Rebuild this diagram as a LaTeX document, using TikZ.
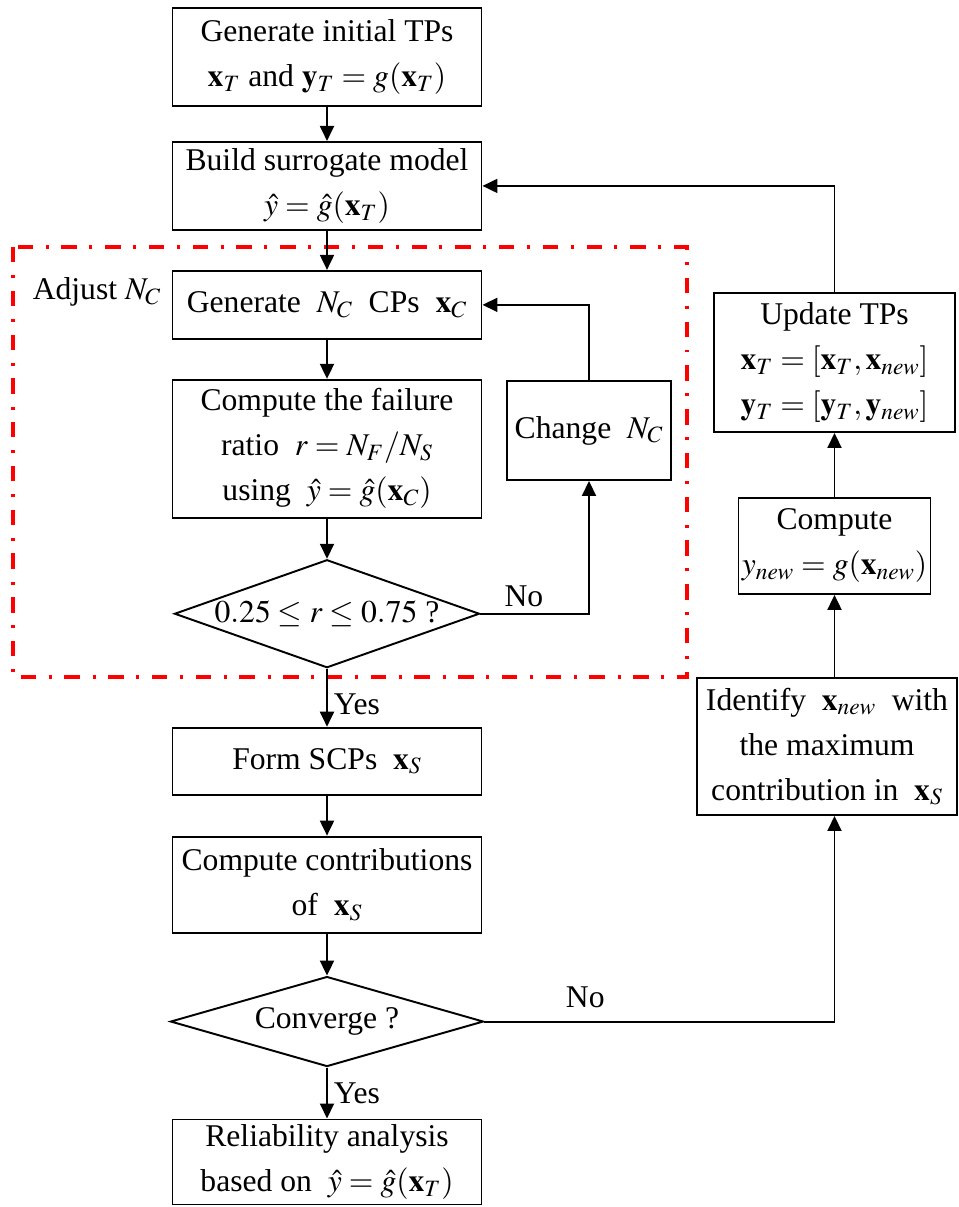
\documentclass[tikz,border=0pt]{standalone}
\usepackage{mathptmx}
\usepackage[no-math]{fontspec}
\setmainfont{Liberation Serif}
\usetikzlibrary{positioning,shapes.geometric,arrows.meta}

\begin{document}
\begin{tikzpicture}[auto, thick, line width=1.1pt, >={Triangle[length=0.3cm,width=0.28cm]},
font=\fontsize{18}{25.6}\selectfont,
main node/.style={rectangle,draw,align=center,inner sep=1pt,minimum width=6.18cm},
side node/.style={rectangle,draw,align=center,inner sep=1pt},
test node/.style={diamond,draw,aspect=2.8,inner sep=0pt,minimum width=6.1cm,minimum height=2.16cm},
red frame/.style={draw=red,line width=1.9pt,dash pattern=on 8.8pt off 7.3pt on 1.7pt off 7.1pt}]
\useasboundingbox(0,0)rectangle(19.18,-24.14);
\node[main node,minimum height=1.96cm](init) at (6.54,-1.14){Generate initial TPs\\ $\mathbf{x}_T$ and $\mathbf{y}_T=g(\mathbf{x}_T)$};
\node[main node,minimum height=1.76cm](build)[below=0.68cm of init]{Build surrogate model\\ $\hat{y}=\hat{g}(\mathbf{x}_T)$};
\node[main node,minimum height=1.36cm](gen)[below=0.78cm of build]{Generate \ $N_C$ \ CPs \ $\mathbf{x}_C$};
\node[main node,minimum height=2.76cm](ratio)[below=0.78cm of gen]{Compute the failure\\ ratio \ $r=N_F/N_S$\\ using \ $\hat{y}=\hat{g}(\mathbf{x}_C)$};
\node[test node](range)[below=0.8cm of ratio]{$0.25\le r\le 0.75$ ?};
\node[main node,minimum height=1.34cm](form)[below=1.16cm of range]{Form SCPs \ $\mathbf{x}_S$};
\node[main node,minimum height=1.92cm](contrib)[below=0.8cm of form]{Compute contributions\\ of \ $\mathbf{x}_S$};
\node[test node,aspect=3.4,minimum width=6.26cm,minimum height=1.8cm](conv)[below=0.84cm of contrib]{Converge ?};
\node[main node,minimum height=1.7cm](rel)[below=1.02cm of conv]{Reliability analysis\\ based on \ $\hat{y}=\hat{g}(\mathbf{x}_T)$};
\node[side node,minimum width=3.28cm,minimum height=1.98cm](change) at (11.78,-8.61){Change \ $N_C$};
\node[side node,minimum width=4.82cm,minimum height=2.78cm](update) at (16.69,-7.25){Update TPs\\ $\mathbf{x}_T=[\mathbf{x}_T,\mathbf{x}_{new}]$\\ $\mathbf{y}_T=[\mathbf{y}_T,\mathbf{y}_{new}]$};
\node[side node,minimum width=3.84cm,minimum height=1.92cm](compute)[below=1.28cm of update]{Compute\\ $y_{new}=g(\mathbf{x}_{new})$};
\node[side node,minimum width=5.2cm,minimum height=2.74cm](ident) at (16.54,-14.93){Identify \ $\mathbf{x}_{new}$ \ with\\ the maximum\\ contribution in \ $\mathbf{x}_S$};
\node(adjust) at (1.94,-5.84){Adjust $N_C$};
\draw[red frame](0.26,-4.94)rectangle(13.74,-13.54);
\draw[->](init)to(build);
\draw[->](build)to(gen);
\draw[->](gen)to(ratio);
\draw[->](ratio)to(range);
\draw[->](range)to node[right,pos=0.62]{Yes}(form);
\draw[->](form)to(contrib);
\draw[->](contrib)to(conv);
\draw[->](conv)to node[right]{Yes}(rel);
\draw[->](range.east)-|node[pos=0.2,above]{No}(change.south);
\draw[->](change.north)|-(gen.east);
\draw[->](update.north)|-(build.east);
\draw[->](compute)to(update);
\draw[->](ident.north -| compute.south)to(compute.south);
\draw[->](conv.east)-|node[pos=0.144,above,yshift=4pt]{No}(ident.south -| compute.south);
\end{tikzpicture}
\end{document}
